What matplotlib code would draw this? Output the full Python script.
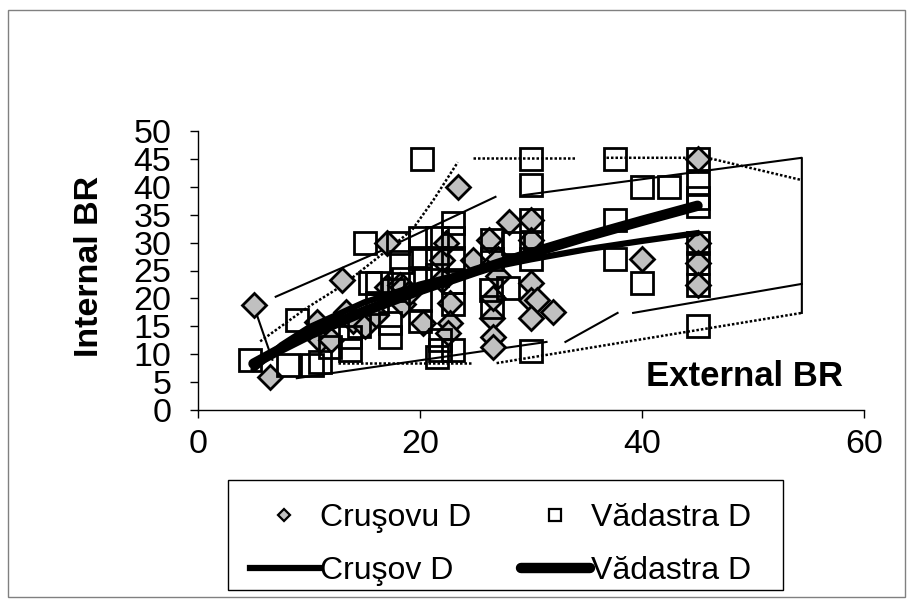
import matplotlib
matplotlib.use("Agg")
import matplotlib.pyplot as plt
from matplotlib.lines import Line2D
from matplotlib.patches import Rectangle

# =========================
# DATA
# =========================

# Cruşovu D points (diamonds)
crusov_x = [5, 6.5, 10.7, 11, 12, 13, 13.3, 14, 15, 16, 17, 17, 18.2, 18.5,
            18.5, 19, 20.3, 22, 22, 22.3, 22.7, 22.7, 22.5, 23.4, 24.8, 26.2,
            26.5, 26.6, 26.6, 26.6, 27, 27, 28, 30, 30, 30, 30, 30.5, 30,
            32, 40, 45, 45, 45, 45]
crusov_y = [18.8, 6, 15.8, 12.5, 12.5, 23.3, 17.6, 16, 15, 17, 30, 22, 22.4, 22,
            19, 21, 15.6, 26.9, 23.3, 30, 19.2, 15.6, 13.8, 40, 26.9, 30.5,
            16.5, 13, 11.3, 20, 27, 24, 33.7, 34, 30.5, 22.7, 19.7, 19.7, 16.5,
            17.6, 27, 45, 30, 26.3, 22.4]

# Vădastra D points (squares)
vadastra_x = [4.7, 8.1, 8.9, 10.3, 11, 11.9, 13.7, 13.7, 14.5, 15, 15.5, 16.1,
              16.1, 17.3, 17.3, 17.6, 18, 18.3, 18.5, 20.2, 20, 21.5, 23, 23,
              20, 21.5, 23, 21.5, 20, 20, 20, 21.8, 21.8, 23, 21.5, 23, 23,
              26.4, 27.9, 26.5, 26.5, 26.5, 28.4, 30, 30, 30, 30, 30, 30,
              37.6, 37.6, 37.6, 40, 42.4, 40, 45, 45, 45, 45, 45, 45, 45, 45]
vadastra_y = [9, 8.1, 16.1, 8.1, 8.6, 11.3, 10.8, 13, 15, 30, 22.7, 22.7,
              19.2, 15.6, 13, 21.5, 30, 26.5, 23.5, 45, 30.8, 30.8, 30.8, 33.5,
              27.2, 27.2, 27.2, 24.2, 23.7, 19.7, 16, 12.5, 10.8, 10.8, 9.5, 23, 19,
              21.5, 21.8, 30.5, 27, 18.5, 30, 45, 40.3, 34, 30, 27, 10.5,
              45, 34, 27, 40, 40, 22.7, 45, 40.7, 38, 36.5, 30, 26.3, 22.4, 15]

# trend lines
crusov_line_x = [5, 7.5, 10, 15, 20, 25, 30, 35, 40, 45]
crusov_line_y = [7.3, 11.6, 14.8, 19.3, 22.5, 25.0, 27.0, 28.8, 30.3, 31.7]
vadastra_line_x = [5, 7.5, 10, 15, 20, 25, 30, 35, 40, 45]
vadastra_line_y = [8.3, 11.0, 13.5, 17.7, 21.5, 24.9, 28.1, 31.1, 33.9, 36.6]

# thin solid band segments
solid_bands = [
    ([5, 6.7], [18.8, 9]),
    ([7.0, 16.7, 26.8], [20.3, 28.7, 38.2]),
    ([29.3, 54.4, 54.4], [38.5, 45.2, 17.4]),
    ([8.9, 31.4], [5.7, 12.2]),
    ([33.1, 37.8], [12.2, 17.4]),
    ([39.2, 54.4], [17.4, 22.6]),
]

# dotted band segments
dotted_bands = [
    ([5.6, 9.8, 13, 16.7, 19.3, 21.2, 23.4], [12.3, 18.3, 22.3, 28.1, 32.3, 37.6, 44.4]),
    ([24.8, 34.0], [45.2, 45.2]),
    ([36.8, 45.9, 54.4], [45.2, 45.2, 41.2]),
    ([12.6, 24.8], [8.4, 8.4]),
    ([26.9, 54.4], [8.4, 17.4]),
]

# =========================
# FIGURE
# =========================

plt.rcParams["font.family"] = ["Liberation Sans", "DejaVu Sans"]

fig = plt.figure(figsize=(9.11, 6.02), dpi=100)

# outer chart border
fig.patches.append(Rectangle((8 / 911, 1 - 597 / 602), 897 / 911, 587 / 602,
                             transform=fig.transFigure, fill=False,
                             edgecolor="#808080", linewidth=1))

ax = fig.add_axes([198 / 911, 1 - 410 / 602, 666 / 911, 279 / 602])

for xs, ys in solid_bands:
    ax.plot(xs, ys, color="black", linewidth=1.5, zorder=2)

for xs, ys in dotted_bands:
    ax.plot(xs, ys, color="black", linewidth=1.8, linestyle=(0, (1, 0.8)), zorder=2)

ax.plot(crusov_x, crusov_y, linestyle="none", marker="D", markersize=12,
        markerfacecolor="#c0c0c0", markeredgecolor="black", markeredgewidth=2,
        zorder=3)

ax.plot(vadastra_x, vadastra_y, linestyle="none", marker="s", markersize=15.5,
        markerfacecolor="none", markeredgecolor="black", markeredgewidth=2,
        zorder=4)

ax.plot(crusov_line_x, crusov_line_y, color="black", linewidth=4.5,
        solid_capstyle="round", zorder=5)
ax.plot(vadastra_line_x, vadastra_line_y, color="black", linewidth=7.5,
        solid_capstyle="round", zorder=5)

ax.set_xlim(0, 60)
ax.set_ylim(0, 50)
ax.set_xticks([0, 20, 40, 60])
ax.set_yticks(range(0, 51, 5))

ax.spines["top"].set_visible(False)
ax.spines["right"].set_visible(False)
ax.spines["left"].set_linewidth(1)
ax.spines["bottom"].set_linewidth(1)

ax.tick_params(axis="y", direction="out", length=6, width=1, labelsize=24.5, pad=13)
ax.tick_params(axis="x", direction="out", length=6, width=1, labelsize=24.5, pad=8)

fig.text(90 / 911, 1 - 266 / 602, "Internal BR", rotation=90, fontsize=24.5,
         fontweight="bold", ha="center", va="center")
fig.text(745 / 911, 1 - 376 / 602, "External BR", fontsize=25,
         fontweight="bold", ha="center", va="center")

# =========================
# LEGEND
# =========================

handles = [
    Line2D([], [], linestyle="none", marker="D", markersize=6.5,
           markerfacecolor="#c0c0c0", markeredgecolor="black", markeredgewidth=1.6),
    Line2D([], [], color="black", linewidth=4.5),
    Line2D([], [], linestyle="none", marker="s", markersize=8.5,
           markerfacecolor="white", markeredgecolor="black", markeredgewidth=1.6),
    Line2D([], [], color="black", linewidth=7.5, solid_capstyle="round"),
]
labels = ["Cruşovu D", "Cruşov D", "Vădastra D", "Vădastra D"]

leg = fig.legend(handles, labels, ncol=2, loc="upper left",
                 bbox_to_anchor=(250 / 911, 1 - 503 / 602),
                 fontsize=23, frameon=False,
                 handlelength=2.15, handletextpad=0.05, columnspacing=1.55,
                 labelspacing=0.72, borderpad=0, borderaxespad=0)

# legend box drawn separately (Excel box is wider than content)
fig.patches.append(Rectangle((228 / 911, 1 - 590 / 602), 555 / 911, 110 / 602,
                             transform=fig.transFigure, fill=False,
                             edgecolor="black", linewidth=1))

fig.savefig("out.png", dpi=100)
